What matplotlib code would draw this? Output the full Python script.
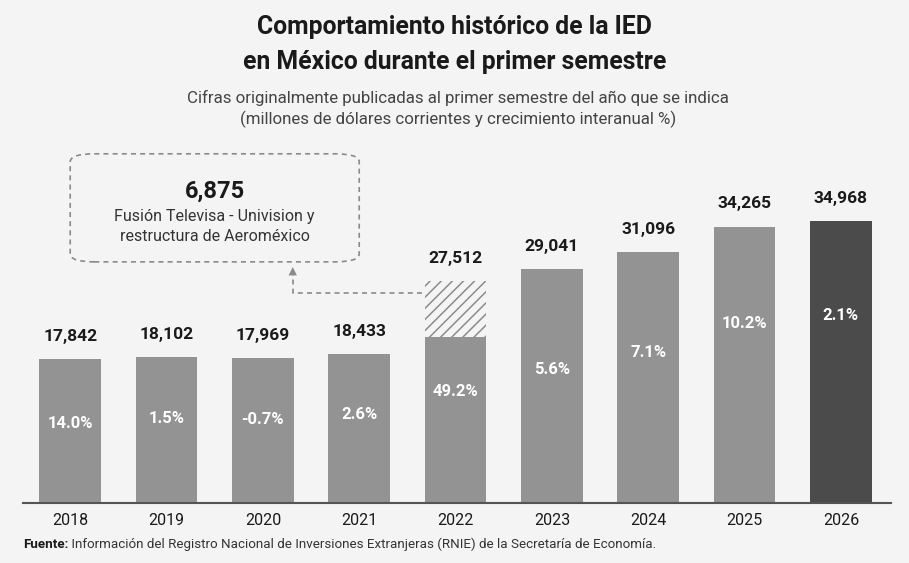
import matplotlib
matplotlib.use("Agg")
import matplotlib.pyplot as plt
from matplotlib.patches import FancyBboxPatch

plt.rcParams['font.family'] = ['Roboto', 'DejaVu Sans']
plt.rcParams['hatch.linewidth'] = 1.1

# data
years = ["2018", "2019", "2020", "2021", "2022", "2023", "2024", "2025", "2026"]
ied = [17842, 18102, 17969, 18433, 27512, 29041, 31096, 34265, 34968]
growth = ["14.0%", "1.5%", "-0.7%", "2.6%", "49.2%", "5.6%", "7.1%", "10.2%", "2.1%"]
extra_2022 = 6875  # Fusión Televisa - Univision y restructura de Aeroméxico
# where the growth labels sit inside the bars (data units)
growth_y = [9900, 10500, 10400, 11000, 13800, 16600, 18700, 22200, 23200]

BG = "#f4f4f4"
GREY = "#939393"
DARK = "#4b4b4b"
HATCH = "#8c8c8c"

W, H = 909, 563
fig = plt.figure(figsize=(W / 100, H / 100), dpi=100, facecolor=BG)

ymax = 44000
units_per_px = 124.0
ax_h = ymax / units_per_px
ax = fig.add_axes([23 / W, (H - 503) / H, (891 - 23) / W, ax_h / H])
ax.set_facecolor(BG)

x = list(range(len(years)))
base = [v if y != "2022" else v - extra_2022 for y, v in zip(years, ied)]
colors = [GREY] * (len(years) - 1) + [DARK]
ax.bar(x, base, width=0.64, color=colors, linewidth=0)

i22 = years.index("2022")
ax.bar(i22, extra_2022, bottom=base[i22], width=0.64, facecolor=BG,
       edgecolor=HATCH, hatch="///", linewidth=0)

for i, v in enumerate(ied):
    ax.annotate(f"{v:,}", xy=(i, v), xytext=(0, 11), textcoords="offset points",
                ha="center", va="bottom", fontsize=12.5, fontweight="bold", color="#1a1a1a")
    ax.text(i, growth_y[i], growth[i], ha="center", va="center",
            fontsize=12, fontweight="bold", color="white")

ax.set_xlim(-0.49, 8.52)
ax.set_ylim(0, ymax)
ax.set_yticks([])
ax.set_xticks(x)
ax.set_xticklabels(years, fontsize=11.5, color="#1a1a1a")
ax.tick_params(axis="x", length=0, pad=7)
for s in ["top", "right", "left"]:
    ax.spines[s].set_visible(False)
ax.spines["bottom"].set_color("#555555")
ax.spines["bottom"].set_linewidth(1.5)

# annotation box for 2022
box = FancyBboxPatch((0.0, 29900), 3.0, 13400,
                     boxstyle="round,pad=0,rounding_size=0.25",
                     mutation_aspect=4000,
                     facecolor="none", edgecolor="#8a8a8a", linewidth=1.2,
                     linestyle=(0, (3, 2.5)), clip_on=False)
ax.add_patch(box)
ax.text(1.5, 38600, f"{extra_2022:,}", ha="center", va="center",
        fontsize=17, fontweight="bold", color="#1a1a1a")
ax.text(1.5, 34300, "Fusión Televisa - Univision y\nrestructura de Aeroméxico",
        ha="center", va="center", fontsize=11.5, color="#333333", linespacing=1.45)

# dashed connector from the hatched part to the box
left_edge = i22 - 0.32
ax.plot([left_edge - 0.03, 2.31, 2.31], [26000, 26000, 28300],
        color="#8a8a8a", linewidth=1.2, linestyle=(0, (3, 2.5)))
ax.annotate("", xy=(2.31, 29600), xytext=(2.31, 28200),
            arrowprops=dict(arrowstyle="-|>,head_width=0.3,head_length=0.6",
                            color="#8a8a8a", linewidth=0))

# titles
fig.text(0.5, 1 - 27 / H, "Comportamiento histórico de la IED", ha="center", va="center",
         fontsize=17.8, fontweight="bold", color="#1a1a1a")
fig.text(0.5, 1 - 62 / H, "en México durante el primer semestre", ha="center", va="center",
         fontsize=17.8, fontweight="bold", color="#1a1a1a")
fig.text(0.504, 1 - 98 / H, "Cifras originalmente publicadas al primer semestre del año que se indica",
         ha="center", va="center", fontsize=12.2, color="#444444")
fig.text(0.504, 1 - 119 / H, "(millones de dólares corrientes y crecimiento interanual %)",
         ha="center", va="center", fontsize=12.2, color="#444444")

# source
src = fig.text(23 / W, 1 - 548 / H, "Fuente:", ha="left", va="baseline",
               fontsize=9.6, fontweight="bold", color="#1a1a1a")
ax.annotate(" Información del Registro Nacional de Inversiones Extranjeras (RNIE) de la Secretaría de Economía.",
            xy=(1, 0), xycoords=src, va="bottom", ha="left",
            fontsize=9.6, color="#333333", annotation_clip=False)

fig.savefig("out.png", dpi=100, facecolor=BG)
